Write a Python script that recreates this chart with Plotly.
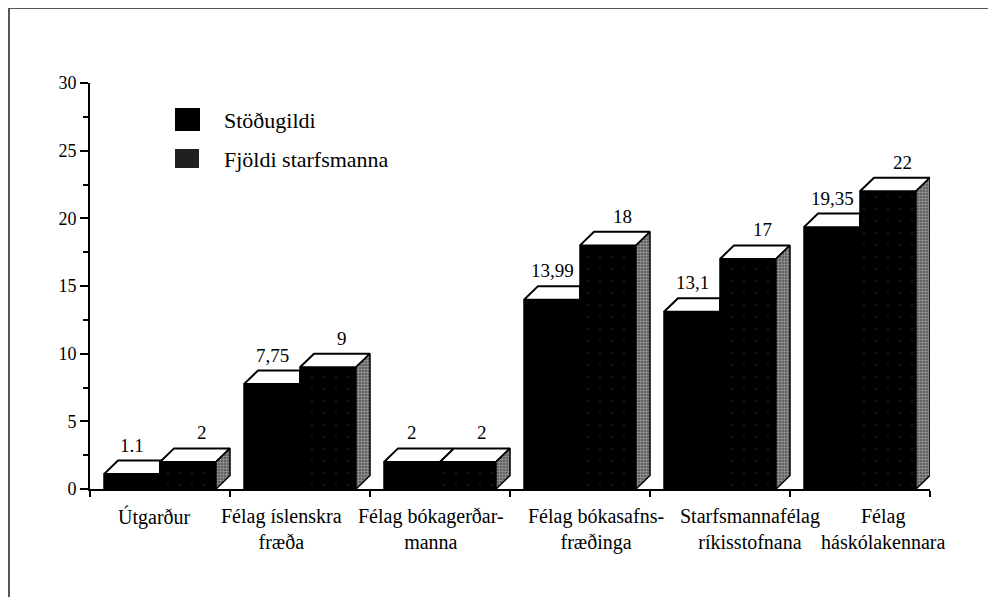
import plotly.graph_objects as go

# ---------------- data ----------------
categories = [
    "Útgarður",
    "Félag íslenskra<br>fræða",
    "Félag bókagerðar-<br>manna",
    "Félag bókasafns-<br>fræðinga",
    "Starfsmannafélag<br>ríkisstofnana",
    "Félag<br>háskólakennara",
]
stodugildi = [1.1, 7.75, 2, 13.99, 13.1, 19.35]
fjoldi = [2, 9, 2, 18, 17, 22]
stodugildi_labels = ["1.1", "7,75", "2", "13,99", "13,1", "19,35"]
fjoldi_labels = ["2", "9", "2", "18", "17", "22"]
series_names = ["Stöðugildi", "Fjöldi starfsmanna"]
y_tickvals = [0, 5, 10, 15, 20, 25, 30]

# ---------------- style ----------------
FONT = "Liberation Serif"
BAR_W = 0.4      # width of each front face (category units)
DX = 0.1         # depth offset, x (category units)
DY = 1.0         # depth offset, y (value units)
OFF = 8          # page margin of the html body
W, H = 988, 589
L, R, T, B = 82, 66, 75, 108
PW, PH = W - L - R, H - T - B
CAT_LABEL_SHIFT = [-6, -19, -9, 16, 30, 23]   # hand-placed label offsets (px) as in original


def px(xpix):
    """screen pixel x -> paper coordinate"""
    return (xpix - OFF - L) / PW


def py(ypix):
    """screen pixel y -> paper coordinate"""
    return (H - B - (ypix - OFF)) / PH


xs = list(range(len(categories)))

fig = go.Figure()

# front faces
fig.add_trace(go.Bar(
    x=xs, y=stodugildi, width=BAR_W, offset=-BAR_W, name=series_names[0],
    marker=dict(color="black", line=dict(color="black", width=1.5)),
    showlegend=False, hoverinfo="skip"))
fig.add_trace(go.Bar(
    x=xs, y=fjoldi, width=BAR_W, offset=0, name=series_names[1],
    marker=dict(color="black",
                pattern=dict(shape=".", fgcolor="#262626", bgcolor="black",
                             size=12, solidity=0.04),
                line=dict(color="black", width=1.5)),
    showlegend=False, hoverinfo="skip"))

# top faces of series 1 (clipped where the series 2 block is in front)
tx1, ty1 = [], []
for i, v1, v2 in zip(xs, stodugildi, fjoldi):
    x0 = i - BAR_W
    xe = i + DX * max(0.0, v1 + DY - v2) / DY
    tx1 += [x0, i, i, xe, x0 + DX, x0, None]
    ty1 += [v1, v1, min(v2, v1 + DY), v1 + DY, v1 + DY, v1, None]
fig.add_trace(go.Scatter(x=tx1, y=ty1, mode="lines", fill="toself",
                         fillcolor="white", line=dict(color="black", width=2),
                         showlegend=False, hoverinfo="skip"))

# top and side faces of series 2
tx2, ty2 = [], []
sx2, sy2 = [], []
for i, v2 in zip(xs, fjoldi):
    tx2 += [i, i + BAR_W, i + BAR_W + DX, i + DX, i, None]
    ty2 += [v2, v2, v2 + DY, v2 + DY, v2, None]
    sx2 += [i + BAR_W, i + BAR_W + DX, i + BAR_W + DX, i + BAR_W, i + BAR_W, None]
    sy2 += [0, DY, v2 + DY, v2, 0, None]
fig.add_trace(go.Scatter(x=tx2, y=ty2, mode="lines", fill="toself",
                         fillcolor="white", line=dict(color="black", width=2),
                         showlegend=False, hoverinfo="skip"))
fig.add_trace(go.Scatter(x=sx2, y=sy2, mode="lines", fill="toself",
                         fillcolor="#8a8a8a",
                         fillpattern=dict(shape=".", fgcolor="#dcdcdc", bgcolor="#505050",
                                          size=3, solidity=0.55),
                         line=dict(color="black", width=1.5),
                         showlegend=False, hoverinfo="skip"))

annotations = []
# value labels
for i, v1, v2, l1, l2 in zip(xs, stodugildi, fjoldi, stodugildi_labels, fjoldi_labels):
    annotations.append(dict(x=i - BAR_W / 2, y=v1 + DY, text=l1, showarrow=False,
                            yanchor="bottom", xanchor="center", yshift=3,
                            font=dict(family=FONT, size=19, color="black")))
    annotations.append(dict(x=i + BAR_W / 2 + DX, y=v2 + DY, text=l2, showarrow=False,
                            yanchor="bottom", xanchor="center", yshift=3,
                            font=dict(family=FONT, size=19, color="black")))

# category labels
for i, cat, sh in zip(xs, categories, CAT_LABEL_SHIFT):
    annotations.append(dict(x=i, xref="x", y=py(503), yref="paper", text=cat,
                            showarrow=False, xanchor="center", yanchor="top",
                            align="center", xshift=sh,
                            font=dict(family=FONT, size=20, color="black")))

# manual legend
legend_y = [120, 159]
annotations += [
    dict(xref="paper", yref="paper", x=px(222), y=py(yy), text=name, showarrow=False,
         xanchor="left", yanchor="middle", font=dict(family=FONT, size=22, color="black"))
    for name, yy in zip(series_names, legend_y)
]
shapes = [
    dict(type="rect", xref="paper", yref="paper", x0=px(175), x1=px(200),
         y0=py(131), y1=py(108), fillcolor="black", line=dict(width=0)),
    dict(type="rect", xref="paper", yref="paper", x0=px(175), x1=px(199),
         y0=py(168), y1=py(149), fillcolor="#202020", line=dict(width=0)),
    # frame
    dict(type="line", xref="paper", yref="paper", x0=px(8), x1=px(996),
         y0=py(8), y1=py(8), line=dict(color="#555555", width=2)),
    dict(type="line", xref="paper", yref="paper", x0=px(9), x1=px(9),
         y0=py(8), y1=py(597), line=dict(color="#555555", width=2)),
]

fig.update_layout(
    width=W, height=H,
    margin=dict(l=L, r=R, t=T, b=B),
    paper_bgcolor="white", plot_bgcolor="white",
    barmode="overlay",
    showlegend=False,
    font=dict(family=FONT, color="black"),
    annotations=annotations,
    shapes=shapes,
    xaxis=dict(
        range=[-0.5, len(categories) - 0.5],
        tickmode="array", tickvals=xs, ticktext=[""] * len(categories),
        ticks="", showgrid=False, zeroline=False,
        showline=True, linecolor="black", linewidth=2,
        minor=dict(tickmode="array", tickvals=[k - 0.5 for k in range(len(categories) + 1)],
                   ticks="outside", ticklen=6, tickwidth=2, tickcolor="black", showgrid=False),
    ),
    yaxis=dict(
        range=[0, 30],
        tickmode="array", tickvals=y_tickvals,
        ticks="outside", ticklen=8, tickwidth=2, tickcolor="black",
        showgrid=False, zeroline=False,
        showline=True, linecolor="black", linewidth=2,
        tickfont=dict(family=FONT, size=18, color="black"),
        minor=dict(tickmode="array", tickvals=[2.5, 7.5, 12.5, 17.5, 22.5, 27.5],
                   ticks="outside", ticklen=5, tickwidth=2, tickcolor="black", showgrid=False),
    ),
)

fig.write_html("out.html")
